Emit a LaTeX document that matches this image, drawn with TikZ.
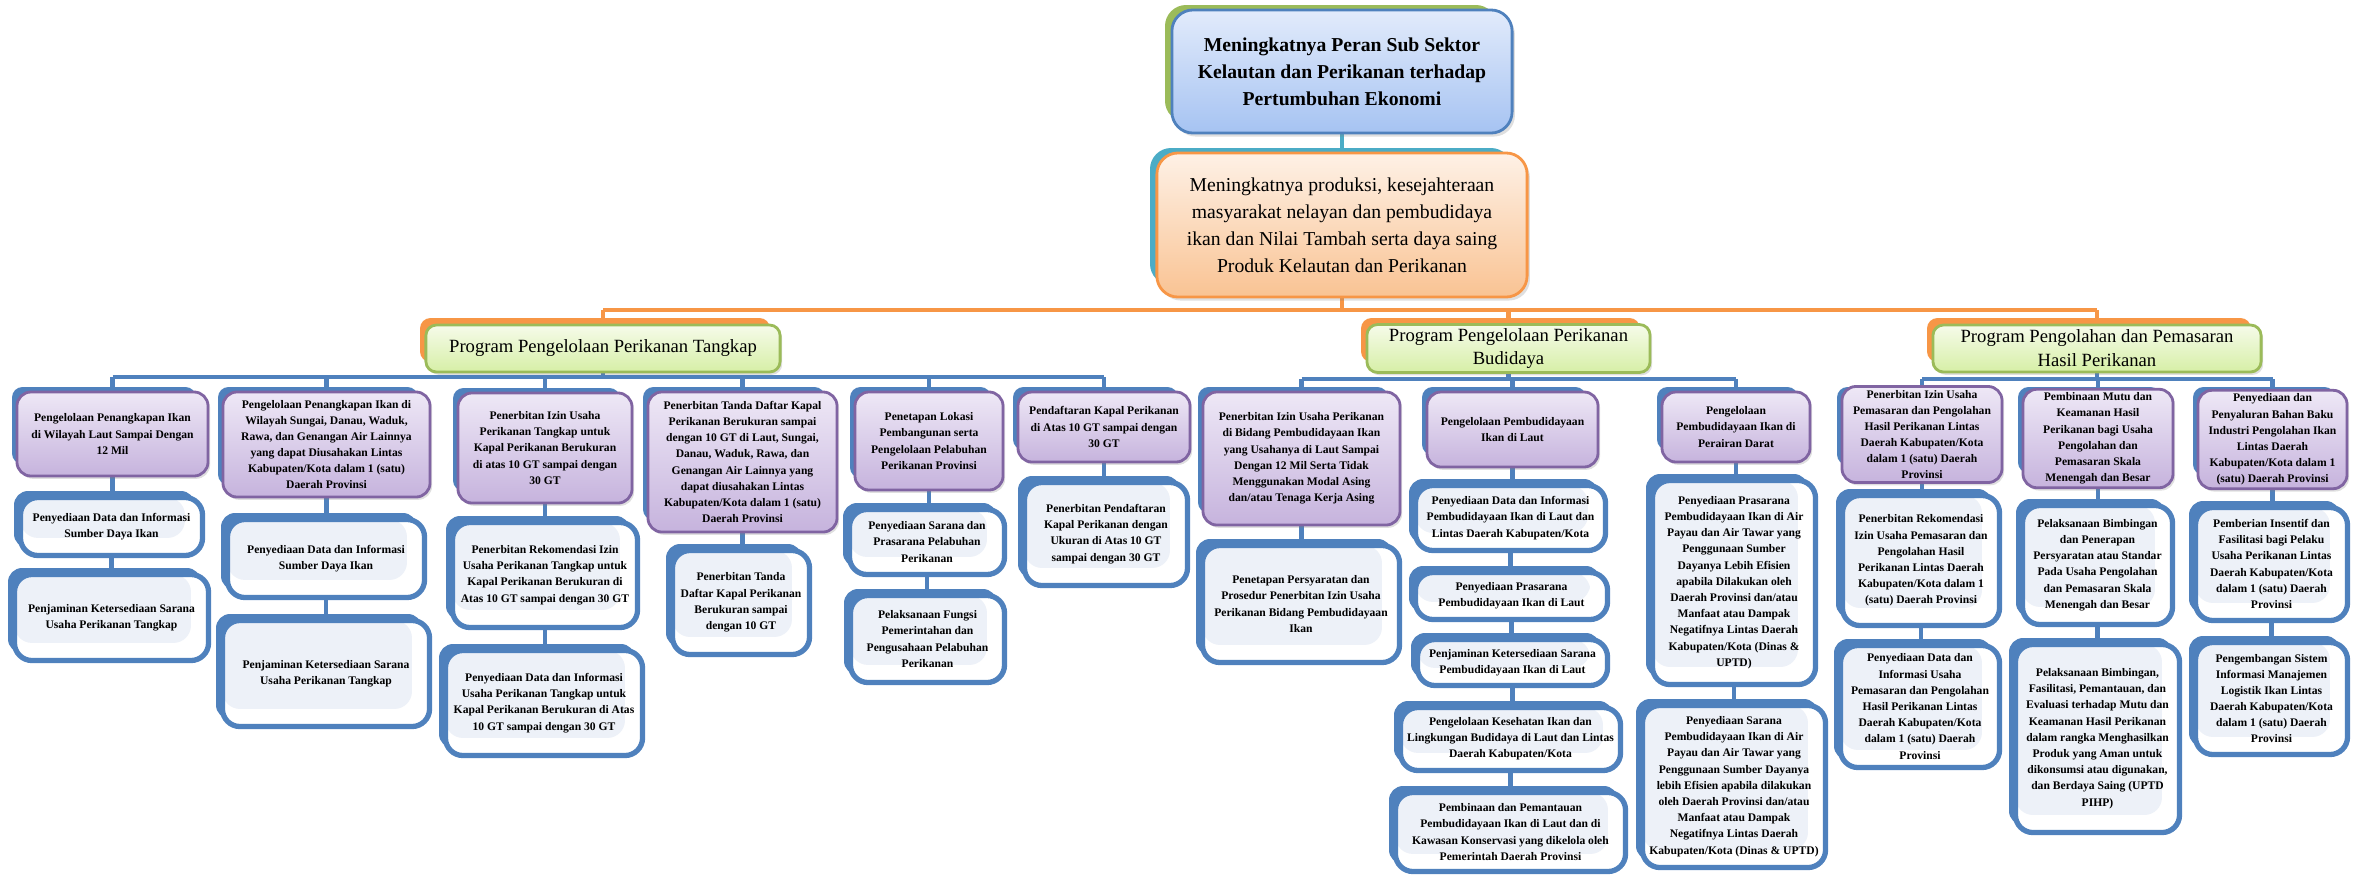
\documentclass[tikz,border=0pt]{standalone}
\usepackage{fontspec}
\setmainfont{Liberation Serif}
\usetikzlibrary{shadows}
\definecolor{blueA}{HTML}{4F81BD}
\definecolor{purB}{HTML}{8064A2}
\definecolor{purT}{HTML}{EEE8F6}
\definecolor{purD}{HTML}{C6B3DD}
\definecolor{grnB}{HTML}{9BBB59}
\definecolor{grnT}{HTML}{F6FBEA}
\definecolor{grnD}{HTML}{D6EFA6}
\definecolor{orgA}{HTML}{F79646}
\definecolor{tealA}{HTML}{4BACC6}
\definecolor{topT}{HTML}{E2EBFB}
\definecolor{topD}{HTML}{A6C3F2}
\definecolor{pchT}{HTML}{FEF1E6}
\definecolor{pchD}{HTML}{F9C393}
\definecolor{litF}{HTML}{EDF1F8}
\pgfdeclarelayer{bg}
\pgfsetlayers{bg,main}
\tikzset{
  smallfont/.style={font=\bfseries\fontsize{3.3}{4.6}\selectfont},
  purplebox/.style={draw=purB, line width=0.8pt, rounded corners=4pt, top color=purT, bottom color=purD,
    align=center, inner sep=1pt, smallfont, drop shadow={opacity=0.25, shadow xshift=0.6pt, shadow yshift=-0.8pt}},
  whitebox/.style={draw=blueA, line width=1.5pt, rounded corners=5pt, fill=white, align=center, inner sep=1pt, smallfont,
    path picture={\fill[litF] (path picture bounding box.north west) rectangle ([xshift=-5pt,yshift=5pt]path picture bounding box.south east);}},
  topbox/.style={draw=blueA, line width=0.8pt, rounded corners=6pt, top color=topT, bottom color=topD, align=center,
    font=\bfseries\fontsize{5.6}{7.7}\selectfont, drop shadow={opacity=0.25, shadow xshift=0.8pt, shadow yshift=-1pt}},
  peachbox/.style={draw=orgA, line width=0.8pt, rounded corners=6pt, top color=pchT, bottom color=pchD, align=center,
    font=\fontsize{5.6}{7.7}\selectfont, drop shadow={opacity=0.25, shadow xshift=0.8pt, shadow yshift=-1pt}},
  progbox/.style={draw=grnB, line width=0.8pt, rounded corners=3pt, top color=grnT, bottom color=grnD, align=center,
    font=\fontsize{5.3}{6.8}\selectfont, inner sep=1pt, drop shadow={opacity=0.25, shadow xshift=0.6pt, shadow yshift=-0.8pt}},
  conn/.style={draw=blueA, line width=1.3pt},
  oconn/.style={draw=orgA, line width=1.3pt},
  tconn/.style={draw=tealA, line width=1.3pt}
}
\newcommand\mkPur[6]{%
  \fill[blueA, rounded corners=3pt] ({#2-5},{#3-5}) rectangle ({#4-12},{#5-12});
  \pgfmathsetmacro\myBW{(#4-#2)/100}\pgfmathsetmacro\myBH{(#5-#3)/100}%
  \node[purplebox, minimum width=\myBW cm, minimum height=\myBH cm] (#1) at ({(#2+#4)/2},{(#3+#5)/2}) {#6};}
\newcommand\mkWht[6]{%
  \fill[blueA, rounded corners=4pt] ({#2-4},{#3-4}) rectangle ({#4-10},{#5-10});
  \pgfmathsetmacro\myBW{(#4-#2-5)/100}\pgfmathsetmacro\myBH{(#5-#3-5)/100}%
  \node[whitebox, minimum width=\myBW cm, minimum height=\myBH cm] (#1) at ({(#2+#4)/2},{(#3+#5)/2}) {#6};}
\newcommand\mkProg[6]{%
  \fill[orgA, rounded corners=3pt] ({#2-6},{#3-7}) rectangle ({#4-10},{#5-10});
  \pgfmathsetmacro\myBW{(#4-#2)/100}\pgfmathsetmacro\myBH{(#5-#3)/100}%
  \node[progbox, minimum width=\myBW cm, minimum height=\myBH cm] (#1) at ({(#2+#4)/2},{(#3+#5)/2}) {#6};}
\begin{document}
\begin{tikzpicture}[x=0.01cm,y=-0.01cm]
\useasboundingbox (0,0) rectangle (2362,878);
% top
\fill[grnB, rounded corners=6pt] (1165,5) rectangle (1497,122);
\node[topbox, minimum width=3.4cm, minimum height=1.23cm] (T) at (1342,71.5) {Meningkatnya Peran Sub Sektor\\Kelautan dan Perikanan terhadap\\Pertumbuhan Ekonomi};
\fill[tealA, rounded corners=6pt] (1150,148) rectangle (1512,285);
\node[peachbox, minimum width=3.7cm, minimum height=1.44cm] (S) at (1342,225) {Meningkatnya produksi, kesejahteraan\\masyarakat nelayan dan pembudidaya\\ikan dan Nilai Tambah serta daya saing\\Produk Kelautan dan Perikanan};
% programs
\mkProg{P1}{426}{325}{780}{372}{Program Pengelolaan Perikanan Tangkap}
\mkProg{P2}{1367}{325}{1650}{372}{Program Pengelolaan Perikanan\\Budidaya}
\mkProg{P3}{1933}{325}{2261}{372}{Program Pengolahan dan Pemasaran\\Hasil Perikanan}
% level 3
\mkPur{A1}{17}{392}{208}{476}{Pengelolaan Penangkapan Ikan\\di Wilayah Laut Sampai Dengan\\12 Mil}
\mkPur{A2}{223}{392}{430}{497}{Pengelolaan Penangkapan Ikan di\\Wilayah Sungai, Danau, Waduk,\\Rawa, dan Genangan Air Lainnya\\yang dapat Diusahakan Lintas\\Kabupaten/Kota dalam 1 (satu)\\Daerah Provinsi}
\mkPur{A3}{458}{393}{632}{503}{Penerbitan Izin Usaha\\Perikanan Tangkap untuk\\Kapal Perikanan Berukuran\\di atas 10 GT sampai dengan\\30 GT}
\mkPur{A4}{648}{392}{837}{532}{Penerbitan Tanda Daftar Kapal\\Perikanan Berukuran sampai\\dengan 10 GT di Laut, Sungai,\\Danau, Waduk, Rawa, dan\\Genangan Air Lainnya yang\\dapat diusahakan Lintas\\Kabupaten/Kota dalam 1 (satu)\\Daerah Provinsi}
\mkPur{A5}{855}{392}{1003}{490}{Penetapan Lokasi\\Pembangunan serta\\Pengelolaan Pelabuhan\\Perikanan Provinsi}
\mkPur{A6}{1018}{392}{1190}{462}{Pendaftaran Kapal Perikanan\\di Atas 10 GT sampai dengan\\30 GT}
\mkPur{B1}{1203}{392}{1400}{525}{Penerbitan Izin Usaha Perikanan\\di Bidang Pembudidayaan Ikan\\yang Usahanya di Laut Sampai\\Dengan 12 Mil Serta Tidak\\Menggunakan Modal Asing\\dan/atau Tenaga Kerja Asing}
\mkPur{B2}{1427}{392}{1598}{467}{Pengelolaan Pembudidayaan\\Ikan di Laut}
\mkPur{B3}{1662}{392}{1810}{462}{Pengelolaan\\Pembudidayaan Ikan di\\Perairan Darat}
\mkPur{C1}{1842}{392}{2002}{477}{Penerbitan Izin Usaha\\Pemasaran dan Pengolahan\\Hasil Perikanan Lintas\\Daerah Kabupaten/Kota\\dalam 1 (satu) Daerah\\Provinsi}
\mkPur{C2}{2023}{392}{2173}{485}{Pembinaan Mutu dan\\Keamanan Hasil\\Perikanan bagi Usaha\\Pengolahan dan\\Pemasaran Skala\\Menengah dan Besar}
\mkPur{C3}{2198}{392}{2347}{487}{Penyediaan dan\\Penyaluran Bahan Baku\\Industri Pengolahan Ikan\\Lintas Daerah\\Kabupaten/Kota dalam 1\\(satu) Daerah Provinsi}
% level 4
\mkWht{A1a}{18}{495}{205}{558}{Penyediaan Data dan Informasi\\Sumber Daya Ikan}
\mkWht{A1b}{12}{572}{211}{663}{Penjaminan Ketersediaan Sarana\\Usaha Perikanan Tangkap}
\mkWht{A2a}{225}{517}{427}{600}{Penyediaan Data dan Informasi\\Sumber Daya Ikan}
\mkWht{A2b}{220}{618}{432}{729}{Penjaminan Ketersediaan Sarana\\Usaha Perikanan Tangkap}
\mkWht{A3a}{450}{520}{640}{630}{Penerbitan Rekomendasi Izin\\Usaha Perikanan Tangkap untuk\\Kapal Perikanan Berukuran di\\Atas 10 GT sampai dengan 30 GT}
\mkWht{A3b}{443}{648}{645}{758}{Penyediaan Data dan Informasi\\Usaha Perikanan Tangkap untuk\\Kapal Perikanan Berukuran di Atas\\10 GT sampai dengan 30 GT}
\mkWht{A4a}{670}{548}{812}{657}{Penerbitan Tanda\\Daftar Kapal Perikanan\\Berukuran sampai\\dengan 10 GT}
\mkWht{A5a}{847}{507}{1007}{577}{Penyediaan Sarana dan\\Prasarana Pelabuhan\\Perikanan}
\mkWht{A5b}{848}{593}{1007}{685}{Pelaksanaan Fungsi\\Pemerintahan dan\\Pengusahaan Pelabuhan\\Perikanan}
\mkWht{A6a}{1022}{480}{1190}{588}{Penerbitan Pendaftaran\\Kapal Perikanan dengan\\Ukuran di Atas 10 GT\\sampai dengan 30 GT}
\mkWht{B1a}{1200}{543}{1402}{665}{Penetapan Persyaratan dan\\Prosedur Penerbitan Izin Usaha\\Perikanan Bidang Pembudidayaan\\Ikan}
\mkWht{B2a}{1413}{483}{1608}{553}{Penyediaan Data dan Informasi\\Pembudidayaan Ikan di Laut dan\\Lintas Daerah Kabupaten/Kota}
\mkWht{B2b}{1413}{570}{1610}{622}{Penyediaan Prasarana\\Pembudidayaan Ikan di Laut}
\mkWht{B2c}{1415}{637}{1610}{688}{Penjaminan Ketersediaan Sarana\\Pembudidayaan Ikan di Laut}
\mkWht{B2d}{1398}{705}{1623}{773}{Pengelolaan Kesehatan Ikan dan\\Lingkungan Budidaya di Laut dan Lintas\\Daerah Kabupaten/Kota}
\mkWht{B2e}{1393}{790}{1628}{874}{Pembinaan dan Pemantauan\\Pembudidayaan Ikan di Laut dan di\\Kawasan Konservasi yang dikelola oleh\\Pemerintah Daerah Provinsi}
\mkWht{B3a}{1650}{478}{1818}{687}{Penyediaan Prasarana\\Pembudidayaan Ikan di Air\\Payau dan Air Tawar yang\\Penggunaan Sumber\\Dayanya Lebih Efisien\\apabila Dilakukan oleh\\Daerah Provinsi dan/atau\\Manfaat atau Dampak\\Negatifnya Lintas Daerah\\Kabupaten/Kota (Dinas \&\\UPTD)}
\mkWht{B3b}{1640}{703}{1828}{870}{Penyediaan Sarana\\Pembudidayaan Ikan di Air\\Payau dan Air Tawar yang\\Penggunaan Sumber Dayanya\\lebih Efisien apabila dilakukan\\oleh Daerah Provinsi dan/atau\\Manfaat atau Dampak\\Negatifnya Lintas Daerah\\Kabupaten/Kota (Dinas \& UPTD)}
\mkWht{C1a}{1840}{493}{2002}{628}{Penerbitan Rekomendasi\\Izin Usaha Pemasaran dan\\Pengolahan Hasil\\Perikanan Lintas Daerah\\Kabupaten/Kota dalam 1\\(satu) Daerah Provinsi}
\mkWht{C1b}{1838}{643}{2002}{770}{Penyediaan Data dan\\Informasi Usaha\\Pemasaran dan Pengolahan\\Hasil Perikanan Lintas\\Daerah Kabupaten/Kota\\dalam 1 (satu) Daerah\\Provinsi}
\mkWht{C2a}{2020}{503}{2175}{627}{Pelaksanaan Bimbingan\\dan Penerapan\\Persyaratan atau Standar\\Pada Usaha Pengolahan\\dan Pemasaran Skala\\Menengah dan Besar}
\mkWht{C2b}{2013}{642}{2182}{835}{Pelaksanaan Bimbingan,\\Fasilitasi, Pemantauan, dan\\Evaluasi terhadap Mutu dan\\Keamanan Hasil Perikanan\\dalam rangka Menghasilkan\\Produk yang Aman untuk\\dikonsumsi atau digunakan,\\dan Berdaya Saing (UPTD\\PIHP)}
\mkWht{C3a}{2193}{505}{2350}{623}{Pemberian Insentif dan\\Fasilitasi bagi Pelaku\\Usaha Perikanan Lintas\\Daerah Kabupaten/Kota\\dalam 1 (satu) Daerah\\Provinsi}
\mkWht{C3b}{2193}{640}{2350}{757}{Pengembangan Sistem\\Informasi Manajemen\\Logistik Ikan Lintas\\Daerah Kabupaten/Kota\\dalam 1 (satu) Daerah\\Provinsi}
% connectors
\begin{pgfonlayer}{bg}
\coordinate (ob) at (0,310);
\coordinate (barA) at (0,377);
\coordinate (barB) at (0,379);
\draw[tconn] (T.south) -- (S.north);
\draw[oconn] (S.south) -- (S.south |- ob);
\draw[oconn] (P1.north |- ob) -- (P3.north |- ob);
\foreach \n in {P1,P2,P3} \draw[oconn] (\n.north |- ob) -- (\n.north);
\draw[conn] (A1.north |- barA) -- (A6.north |- barA);
\draw[conn] (P1.south) -- (P1.south |- barA);
\foreach \n in {A1,A2,A3,A4,A5,A6} \draw[conn] (\n.north |- barA) -- (\n.north);
\draw[conn] (B1.north |- barB) -- (B3.north |- barB);
\draw[conn] (P2.south) -- (P2.south |- barB);
\foreach \n in {B1,B2,B3} \draw[conn] (\n.north |- barB) -- (\n.north);
\draw[conn] (C1.north |- barB) -- (C3.north |- barB);
\draw[conn] (P3.south) -- (P3.south |- barB);
\foreach \n in {C1,C2,C3} \draw[conn] (\n.north |- barB) -- (\n.north);
\foreach \u/\v in {A1/A1a,A1a/A1b,A2/A2a,A2a/A2b,A3/A3a,A3a/A3b,A4/A4a,A5/A5a,A5a/A5b,A6/A6a,B1/B1a,B2/B2a,B2a/B2b,B2b/B2c,B2c/B2d,B2d/B2e,B3/B3a,B3a/B3b,C1/C1a,C1a/C1b,C2/C2a,C2a/C2b,C3/C3a,C3a/C3b}
  \draw[conn] (\u.south) -- (\u.south |- \v.north);
\end{pgfonlayer}
\end{tikzpicture}
\end{document}
